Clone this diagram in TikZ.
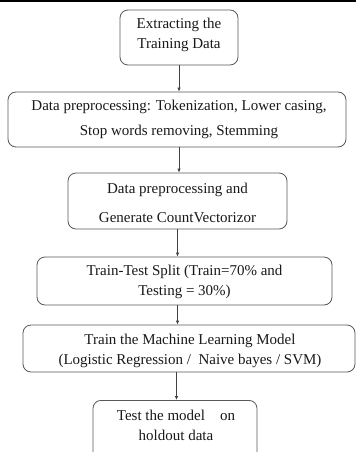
\documentclass[tikz,border=0pt]{standalone}
\usepackage{fontspec}
\setmainfont{Liberation Serif}
\usetikzlibrary{arrows.meta}
\begin{document}
\begin{tikzpicture}[x=1pt,y=-1pt,
  box/.style={draw=black!65,line width=0.8pt,rounded corners=8pt,inner sep=0pt},
  txt/.style={align=center,font=\fontsize{15}{20}\selectfont,text=black!90,inner sep=0pt},
  arr/.style={draw=black!75,line width=0.8pt,-{Latex[length=4pt,width=3.5pt]}}]
\useasboundingbox (0,0) rectangle (356,452);
\clip (0,0) rectangle (356,452);
\fill[white] (0,0) rectangle (356,452);
\coordinate (tl) at (0,0.8);
\coordinate (tr) at (356,0.8);
\draw[line width=1.6pt,black] (tl) -- (tr);
\node[box,minimum width=118,minimum height=55] (b1) at (179,37.5) {};
\node[txt] (t1) at (179,35) {Extracting the\\Training Data};
\node[box,minimum width=338,minimum height=55] (b2) at (177,119.5) {};
\node[txt,font=\fontsize{15}{25}\selectfont] (t2) at (179,119.5) {Data preprocessing: Tokenization, Lower casing,\\Stop words removing, Stemming};
\node[box,minimum width=219,minimum height=56] (b3) at (177.5,201) {};
\node[txt,font=\fontsize{15}{29}\selectfont] (t3) at (177.5,202.5) {Data preprocessing and\\Generate CountVectorizor};
\node[box,minimum width=295,minimum height=48] (b4) at (184.5,281) {};
\node[txt] (t4) at (184.5,282) {Train-Test Split (Train=70\% and\\Testing = 30\%)};
\node[box,minimum width=332,minimum height=47] (b5) at (189,348.5) {};
\node[txt] (t5) at (190,350.5) {Train the Machine Learning Model\\(Logistic Regression /\ \ Naive bayes / SVM)};
\node[box,minimum width=164,minimum height=64,anchor=north] (b6) at (175,400) {};
\node[txt] (t6) at (176,425) {Test the model\quad on\\holdout data};
\draw[arr] (b1.south) -- (b1.south |- b2.north);
\draw[arr] (b1.south |- b2.south) -- (b1.south |- b3.north);
\draw[arr] (b3.south) -- (b3.south |- b4.north);
\draw[arr] (b3.south |- b4.south) -- (b3.south |- b5.north);
\draw[arr] ([xshift=-1pt]b3.south |- b5.south) -- ([xshift=-1pt]b3.south |- b6.north);
\end{tikzpicture}
\end{document}
